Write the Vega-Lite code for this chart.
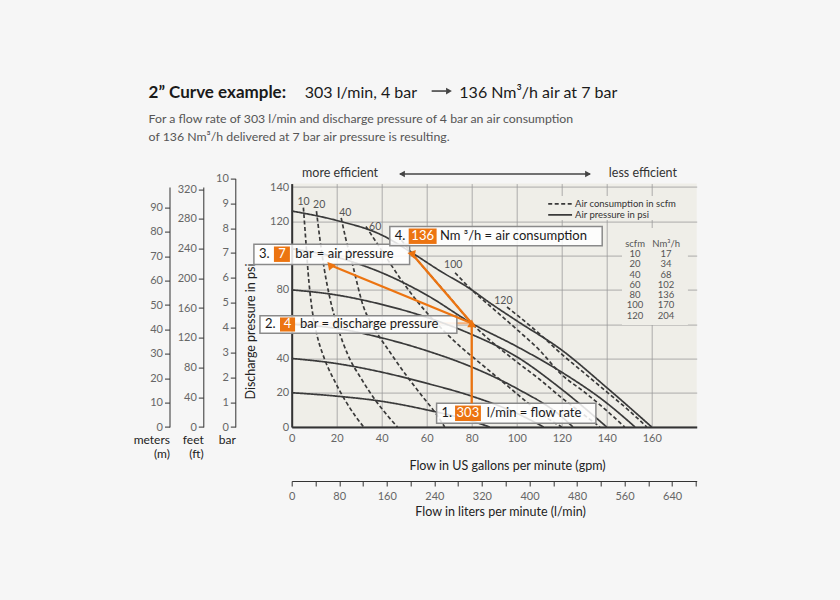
{
  "$schema": "https://vega.github.io/schema/vega-lite/v6.json",
  "width": 405,
  "height": 243.4,
  "autosize": {"type": "none"},
  "padding": {"left": 291.7, "top": 183.6, "right": 143.3, "bottom": 173},
  "background": "#f6f6f6",
  "config": {
    "font": "Lato",
    "view": {"fill": "#efeee8", "stroke": null},
    "axis": {"labelFont": "Lato", "titleFont": "Lato", "labelColor": "#666666", "titleColor": "#222222", "titleFontWeight": "normal", "labelFontSize": 11, "titleFontSize": 12.5, "domainColor": "#333333", "tickColor": "#333333", "labelOverlap": false, "labelFlush": false},
    "text": {"font": "Lato"}
  },
  "datasets": {
    "curves": [
      {"kind": "Air pressure in psi", "level": "p120", "gpm": 0, "psi": 126},
      {"kind": "Air pressure in psi", "level": "p120", "gpm": 20, "psi": 120.5},
      {"kind": "Air pressure in psi", "level": "p120", "gpm": 40, "psi": 112},
      {"kind": "Air pressure in psi", "level": "p120", "gpm": 53, "psi": 102},
      {"kind": "Air pressure in psi", "level": "p120", "gpm": 66, "psi": 91},
      {"kind": "Air pressure in psi", "level": "p120", "gpm": 80, "psi": 80},
      {"kind": "Air pressure in psi", "level": "p120", "gpm": 88, "psi": 72.5},
      {"kind": "Air pressure in psi", "level": "p120", "gpm": 100, "psi": 62},
      {"kind": "Air pressure in psi", "level": "p120", "gpm": 120, "psi": 44.9},
      {"kind": "Air pressure in psi", "level": "p120", "gpm": 140, "psi": 23},
      {"kind": "Air pressure in psi", "level": "p120", "gpm": 160, "psi": 0},
      {"kind": "Air pressure in psi", "level": "p100", "gpm": 0, "psi": 104},
      {"kind": "Air pressure in psi", "level": "p100", "gpm": 20, "psi": 99},
      {"kind": "Air pressure in psi", "level": "p100", "gpm": 40, "psi": 90},
      {"kind": "Air pressure in psi", "level": "p100", "gpm": 60, "psi": 77},
      {"kind": "Air pressure in psi", "level": "p100", "gpm": 80, "psi": 60.5},
      {"kind": "Air pressure in psi", "level": "p100", "gpm": 100, "psi": 47},
      {"kind": "Air pressure in psi", "level": "p100", "gpm": 120, "psi": 32},
      {"kind": "Air pressure in psi", "level": "p100", "gpm": 140, "psi": 14},
      {"kind": "Air pressure in psi", "level": "p100", "gpm": 152.6, "psi": 0},
      {"kind": "Air pressure in psi", "level": "p80", "gpm": 0, "psi": 80},
      {"kind": "Air pressure in psi", "level": "p80", "gpm": 20, "psi": 77},
      {"kind": "Air pressure in psi", "level": "p80", "gpm": 40, "psi": 71.5},
      {"kind": "Air pressure in psi", "level": "p80", "gpm": 60, "psi": 64},
      {"kind": "Air pressure in psi", "level": "p80", "gpm": 80, "psi": 54},
      {"kind": "Air pressure in psi", "level": "p80", "gpm": 100, "psi": 41},
      {"kind": "Air pressure in psi", "level": "p80", "gpm": 120, "psi": 22},
      {"kind": "Air pressure in psi", "level": "p80", "gpm": 140, "psi": 0},
      {"kind": "Air pressure in psi", "level": "p60", "gpm": 0, "psi": 60},
      {"kind": "Air pressure in psi", "level": "p60", "gpm": 20, "psi": 57.5},
      {"kind": "Air pressure in psi", "level": "p60", "gpm": 40, "psi": 52},
      {"kind": "Air pressure in psi", "level": "p60", "gpm": 60, "psi": 44.5},
      {"kind": "Air pressure in psi", "level": "p60", "gpm": 80, "psi": 35},
      {"kind": "Air pressure in psi", "level": "p60", "gpm": 100, "psi": 22.5},
      {"kind": "Air pressure in psi", "level": "p60", "gpm": 120, "psi": 6},
      {"kind": "Air pressure in psi", "level": "p60", "gpm": 125, "psi": 0},
      {"kind": "Air pressure in psi", "level": "p40", "gpm": 0, "psi": 40},
      {"kind": "Air pressure in psi", "level": "p40", "gpm": 20, "psi": 37},
      {"kind": "Air pressure in psi", "level": "p40", "gpm": 40, "psi": 32},
      {"kind": "Air pressure in psi", "level": "p40", "gpm": 60, "psi": 25.5},
      {"kind": "Air pressure in psi", "level": "p40", "gpm": 80, "psi": 18},
      {"kind": "Air pressure in psi", "level": "p40", "gpm": 100, "psi": 8},
      {"kind": "Air pressure in psi", "level": "p40", "gpm": 112, "psi": 0},
      {"kind": "Air pressure in psi", "level": "p20", "gpm": 0, "psi": 20},
      {"kind": "Air pressure in psi", "level": "p20", "gpm": 20, "psi": 18},
      {"kind": "Air pressure in psi", "level": "p20", "gpm": 40, "psi": 15},
      {"kind": "Air pressure in psi", "level": "p20", "gpm": 60, "psi": 10},
      {"kind": "Air pressure in psi", "level": "p20", "gpm": 80, "psi": 3.5},
      {"kind": "Air pressure in psi", "level": "p20", "gpm": 88, "psi": 0},
      {"kind": "Air consumption in scfm", "level": "c10", "gpm": 5.2, "psi": 128},
      {"kind": "Air consumption in scfm", "level": "c10", "gpm": 6.2, "psi": 110},
      {"kind": "Air consumption in scfm", "level": "c10", "gpm": 7.3, "psi": 90},
      {"kind": "Air consumption in scfm", "level": "c10", "gpm": 8.8, "psi": 71},
      {"kind": "Air consumption in scfm", "level": "c10", "gpm": 11, "psi": 55},
      {"kind": "Air consumption in scfm", "level": "c10", "gpm": 14.5, "psi": 40},
      {"kind": "Air consumption in scfm", "level": "c10", "gpm": 19, "psi": 27},
      {"kind": "Air consumption in scfm", "level": "c10", "gpm": 24, "psi": 15},
      {"kind": "Air consumption in scfm", "level": "c10", "gpm": 28.5, "psi": 6},
      {"kind": "Air consumption in scfm", "level": "c10", "gpm": 32, "psi": 0},
      {"kind": "Air consumption in scfm", "level": "c20", "gpm": 11, "psi": 126},
      {"kind": "Air consumption in scfm", "level": "c20", "gpm": 12.5, "psi": 110},
      {"kind": "Air consumption in scfm", "level": "c20", "gpm": 14.5, "psi": 92},
      {"kind": "Air consumption in scfm", "level": "c20", "gpm": 17, "psi": 75},
      {"kind": "Air consumption in scfm", "level": "c20", "gpm": 20.5, "psi": 58},
      {"kind": "Air consumption in scfm", "level": "c20", "gpm": 25, "psi": 42},
      {"kind": "Air consumption in scfm", "level": "c20", "gpm": 31, "psi": 28},
      {"kind": "Air consumption in scfm", "level": "c20", "gpm": 37, "psi": 16},
      {"kind": "Air consumption in scfm", "level": "c20", "gpm": 43, "psi": 6},
      {"kind": "Air consumption in scfm", "level": "c20", "gpm": 47, "psi": 0},
      {"kind": "Air consumption in scfm", "level": "c40", "gpm": 22, "psi": 122},
      {"kind": "Air consumption in scfm", "level": "c40", "gpm": 24, "psi": 110},
      {"kind": "Air consumption in scfm", "level": "c40", "gpm": 27, "psi": 95},
      {"kind": "Air consumption in scfm", "level": "c40", "gpm": 31.7, "psi": 71},
      {"kind": "Air consumption in scfm", "level": "c40", "gpm": 37, "psi": 57},
      {"kind": "Air consumption in scfm", "level": "c40", "gpm": 44, "psi": 43},
      {"kind": "Air consumption in scfm", "level": "c40", "gpm": 51, "psi": 30},
      {"kind": "Air consumption in scfm", "level": "c40", "gpm": 58, "psi": 18},
      {"kind": "Air consumption in scfm", "level": "c40", "gpm": 64, "psi": 8},
      {"kind": "Air consumption in scfm", "level": "c40", "gpm": 68, "psi": 0},
      {"kind": "Air consumption in scfm", "level": "c60", "gpm": 33, "psi": 117},
      {"kind": "Air consumption in scfm", "level": "c60", "gpm": 40, "psi": 103},
      {"kind": "Air consumption in scfm", "level": "c60", "gpm": 48.6, "psi": 86},
      {"kind": "Air consumption in scfm", "level": "c60", "gpm": 56, "psi": 73},
      {"kind": "Air consumption in scfm", "level": "c60", "gpm": 64, "psi": 61},
      {"kind": "Air consumption in scfm", "level": "c60", "gpm": 74, "psi": 48},
      {"kind": "Air consumption in scfm", "level": "c60", "gpm": 84, "psi": 37},
      {"kind": "Air consumption in scfm", "level": "c60", "gpm": 95, "psi": 25},
      {"kind": "Air consumption in scfm", "level": "c60", "gpm": 105, "psi": 14},
      {"kind": "Air consumption in scfm", "level": "c60", "gpm": 115, "psi": 4},
      {"kind": "Air consumption in scfm", "level": "c60", "gpm": 120, "psi": 0},
      {"kind": "Air consumption in scfm", "level": "c80", "gpm": 47, "psi": 112},
      {"kind": "Air consumption in scfm", "level": "c80", "gpm": 54, "psi": 100.3},
      {"kind": "Air consumption in scfm", "level": "c80", "gpm": 62, "psi": 88},
      {"kind": "Air consumption in scfm", "level": "c80", "gpm": 70, "psi": 76},
      {"kind": "Air consumption in scfm", "level": "c80", "gpm": 80, "psi": 60.5},
      {"kind": "Air consumption in scfm", "level": "c80", "gpm": 90, "psi": 48.5},
      {"kind": "Air consumption in scfm", "level": "c80", "gpm": 100, "psi": 38},
      {"kind": "Air consumption in scfm", "level": "c80", "gpm": 110, "psi": 28},
      {"kind": "Air consumption in scfm", "level": "c80", "gpm": 120, "psi": 17},
      {"kind": "Air consumption in scfm", "level": "c80", "gpm": 130, "psi": 7},
      {"kind": "Air consumption in scfm", "level": "c80", "gpm": 137, "psi": 0},
      {"kind": "Air consumption in scfm", "level": "c100", "gpm": 72.6, "psi": 90},
      {"kind": "Air consumption in scfm", "level": "c100", "gpm": 80, "psi": 80},
      {"kind": "Air consumption in scfm", "level": "c100", "gpm": 90, "psi": 68.5},
      {"kind": "Air consumption in scfm", "level": "c100", "gpm": 100, "psi": 57},
      {"kind": "Air consumption in scfm", "level": "c100", "gpm": 110, "psi": 45},
      {"kind": "Air consumption in scfm", "level": "c100", "gpm": 120, "psi": 30.5},
      {"kind": "Air consumption in scfm", "level": "c100", "gpm": 130, "psi": 20.5},
      {"kind": "Air consumption in scfm", "level": "c100", "gpm": 140, "psi": 9.5},
      {"kind": "Air consumption in scfm", "level": "c100", "gpm": 148, "psi": 0},
      {"kind": "Air consumption in scfm", "level": "c120", "gpm": 95.7, "psi": 70},
      {"kind": "Air consumption in scfm", "level": "c120", "gpm": 100, "psi": 65.5},
      {"kind": "Air consumption in scfm", "level": "c120", "gpm": 110, "psi": 54.5},
      {"kind": "Air consumption in scfm", "level": "c120", "gpm": 120, "psi": 42.5},
      {"kind": "Air consumption in scfm", "level": "c120", "gpm": 130, "psi": 31.5},
      {"kind": "Air consumption in scfm", "level": "c120", "gpm": 140, "psi": 20.5},
      {"kind": "Air consumption in scfm", "level": "c120", "gpm": 150, "psi": 9.5},
      {"kind": "Air consumption in scfm", "level": "c120", "gpm": 157.8, "psi": 0}
    ],
    "curveLabels": [
      {"label": "10", "gpm": 5.3, "psi": 131.4},
      {"label": "20", "gpm": 12.2, "psi": 129.5},
      {"label": "40", "gpm": 23.8, "psi": 124.7},
      {"label": "60", "gpm": 37.1, "psi": 116.9},
      {"label": "100", "gpm": 71.8, "psi": 94.5},
      {"label": "120", "gpm": 94.1, "psi": 73.5}
    ],
    "panels": [
      {"gpm": 146.8, "gpm2": 176.1, "psi": 116.1, "psi2": 59.5},
      {"gpm": 112.6, "gpm2": 177.0, "psi": 134.8, "psi2": 120.8}
    ],
    "legendItems": [
      {"kind": "Air consumption in scfm", "gpm": 114.0, "gpm2": 124.6, "psi": 130.2},
      {"kind": "Air pressure in psi", "gpm": 114.0, "gpm2": 124.6, "psi": 123.8}
    ],
    "discharge": [{"gpm": 0, "gpm2": 80, "psi": 60.5}],
    "boxes": [
      {"n": "1", "gpm": 64.4, "gpm2": 135.2, "psi": 13.8, "psi2": 2.2},
      {"n": "2", "gpm": -14.1, "gpm2": 73.4, "psi": 64.9, "psi2": 54.7},
      {"n": "3", "gpm": -16.8, "gpm2": 52.4, "psi": 106.6, "psi2": 94.8},
      {"n": "4", "gpm": 43.6, "gpm2": 138.0, "psi": 116.9, "psi2": 105.8}
    ],
    "numbers": [
      {"num": "303", "gpm": 72.6, "gpm2": 84.1, "psi": 12.5, "psi2": 3.5, "cgpm": 78.3, "cpsi": 8.0},
      {"num": "4", "gpm": -5.2, "gpm2": 1.5, "psi": 63.9, "psi2": 55.7, "cgpm": -1.9, "cpsi": 59.8},
      {"num": "7", "gpm": -7.9, "gpm2": -0.8, "psi": 105.3, "psi2": 96.3, "cgpm": -4.3, "cpsi": 100.8},
      {"num": "136", "gpm": 52.0, "gpm2": 64.4, "psi": 115.8, "psi2": 106.8, "cgpm": 58.2, "cpsi": 111.3}
    ],
    "boxText": [
      {"text": "1.", "gpm": 66.6, "psi": 8.0},
      {"text": "l/min = flow rate", "gpm": 86.7, "psi": 8.0},
      {"text": "2.", "gpm": -11.9, "psi": 59.8},
      {"text": "bar = discharge pressure", "gpm": 3.7, "psi": 59.8},
      {"text": "3.", "gpm": -14.5, "psi": 100.8},
      {"text": "bar  = air pressure", "gpm": 1.6, "psi": 100.8},
      {"text": "4.", "gpm": 45.8, "psi": 111.3},
      {"text": "Nm ³/h = air consumption", "gpm": 65.9, "psi": 111.3}
    ],
    "arrows": [
      {"name": "flow", "gpm": 80, "psi": 13.8, "gpm2": 80, "psi2": 60.5},
      {"name": "cons", "gpm": 80, "psi": 60.5, "gpm2": 53.9, "psi2": 100.3},
      {"name": "pres", "gpm": 80, "psi": 60.5, "gpm2": 17.0, "psi2": 94.5}
    ],
    "headBold": [{"text": "2” Curve example:", "gpm": -63.6, "psi": 192.2}],
    "headRegular": [
      {"text": "303 l/min, 4 bar", "gpm": 5.8, "psi": 192.2},
      {"text": "136 Nm³/h air at 7 bar", "gpm": 74.5, "psi": 192.2}
    ],
    "paragraph": [
      {"text": "For a flow rate of 303 l/min and discharge pressure of 4 bar an air consumption", "gpm": -63.6, "psi": 177.4},
      {"text": "of 136 Nm³/h delivered at 7 bar air pressure is resulting.", "gpm": -63.6, "psi": 166.7}
    ],
    "efficiency": [
      {"text": "more efficient", "gpm": 21.5, "psi": 145.9},
      {"text": "less efficient", "gpm": 156.1, "psi": 145.9}
    ],
    "greyArrows": [
      {"gpm": 48.1, "gpm2": 132.6, "psi": 147.6},
      {"gpm": 62.2, "gpm2": 68.6, "psi": 196.0}
    ],
    "greyHeads": [
      {"dir": "left", "gpm": 49.0, "psi": 147.6},
      {"dir": "right", "gpm": 131.7, "psi": 147.6},
      {"dir": "right", "gpm": 69.9, "psi": 196.0}
    ],
    "table": [
      {"scfm": "scfm", "nm": "Nm³/h"},
      {"scfm": "10", "nm": "17"},
      {"scfm": "20", "nm": "34"},
      {"scfm": "40", "nm": "68"},
      {"scfm": "60", "nm": "102"},
      {"scfm": "80", "nm": "136"},
      {"scfm": "100", "nm": "170"},
      {"scfm": "120", "nm": "204"}
    ]
  },
  "resolve": {"scale": {"x": "independent", "y": "independent"}},
  "layer": [
    {"data": {"name": "panels"}, "mark": {"type": "rect", "fill": "#efeee8"},
      "encoding": {
        "x": {"field": "gpm", "type": "quantitative", "scale": {"domain": [0, 180], "nice": false, "zero": false},
          "axis": {"orient": "bottom", "values": [0, 20, 40, 60, 80, 100, 120, 140, 160], "grid": true, "gridColor": "#9a9a9a", "gridWidth": 0.8, "tickSize": 0, "labelPadding": 5, "domainWidth": 2, "title": "Flow in US gallons per minute (gpm)", "titleX": 215.3, "titleY": 42, "titleBaseline": "alphabetic"}},
        "y": {"field": "psi", "type": "quantitative", "scale": {"domain": [0, 142], "nice": false, "zero": false},
          "axis": {"orient": "left", "values": [0, 20, 40, 60, 80, 100, 120, 140], "labelExpr": "datum.value == 100 || datum.value == 60 ? '' : datum.label", "grid": true, "gridColor": "#9a9a9a", "gridWidth": 0.8, "tickSize": 0, "labelPadding": 3, "domainWidth": 2, "title": "Discharge pressure in psi", "titleX": -37.7, "titleY": 147.4, "titleBaseline": "alphabetic"}},
        "x2": {"field": "gpm2"}, "y2": {"field": "psi2"}
      }},
    {"data": {"name": "discharge"}, "mark": {"type": "rule", "color": "#f5b27e", "strokeWidth": 2},
      "encoding": {
        "x": {"field": "gpm", "type": "quantitative", "scale": {"domain": [0, 180], "nice": false, "zero": false}, "axis": null},
        "y": {"field": "psi", "type": "quantitative", "scale": {"domain": [0, 142], "nice": false, "zero": false}, "axis": null},
        "x2": {"field": "gpm2"}
      }},
    {"data": {"name": "curves"}, "mark": {"type": "line", "interpolate": "monotone", "color": "#3a3a3a", "strokeWidth": 1.7},
      "encoding": {
        "x": {"field": "gpm", "type": "quantitative", "scale": {"domain": [0, 180], "nice": false, "zero": false}, "axis": null},
        "y": {"field": "psi", "type": "quantitative", "scale": {"domain": [0, 142], "nice": false, "zero": false}, "axis": null},
        "strokeDash": {"field": "kind", "type": "nominal", "scale": {"domain": ["Air consumption in scfm", "Air pressure in psi"], "range": [[4, 2.5], [1, 0]]}, "legend": null},
        "detail": {"field": "level", "type": "nominal"}
      }},
    {"data": {"name": "legendItems"}, "mark": {"type": "rule", "color": "#3a3a3a", "strokeWidth": 1.8},
      "encoding": {
        "x": {"field": "gpm", "type": "quantitative", "scale": {"domain": [0, 180], "nice": false, "zero": false}, "axis": null},
        "y": {"field": "psi", "type": "quantitative", "scale": {"domain": [0, 142], "nice": false, "zero": false}, "axis": null},
        "x2": {"field": "gpm2"},
        "strokeDash": {"field": "kind", "type": "nominal", "legend": null}
      }},
    {"data": {"name": "legendItems"}, "mark": {"type": "text", "fontSize": 9.5, "color": "#333333", "align": "left", "baseline": "middle", "dx": 3},
      "encoding": {
        "x": {"field": "gpm2", "type": "quantitative", "scale": {"domain": [0, 180], "nice": false, "zero": false}, "axis": null},
        "y": {"field": "psi", "type": "quantitative", "scale": {"domain": [0, 142], "nice": false, "zero": false}, "axis": null},
        "text": {"field": "kind"}
      }},
    {"data": {"name": "curveLabels"}, "mark": {"type": "text", "fontSize": 10.5, "color": "#555555", "align": "center", "baseline": "middle"},
      "encoding": {
        "x": {"field": "gpm", "type": "quantitative", "scale": {"domain": [0, 180], "nice": false, "zero": false}, "axis": null},
        "y": {"field": "psi", "type": "quantitative", "scale": {"domain": [0, 142], "nice": false, "zero": false}, "axis": null},
        "text": {"field": "label"}
      }},
    {"data": {"name": "boxes"}, "mark": {"type": "rect", "fill": "#ffffff", "fillOpacity": 0.85, "stroke": "#8a8a8a", "strokeWidth": 1.5},
      "encoding": {
        "x": {"field": "gpm", "type": "quantitative", "scale": {"domain": [0, 180], "nice": false, "zero": false}, "axis": null},
        "y": {"field": "psi", "type": "quantitative", "scale": {"domain": [0, 142], "nice": false, "zero": false}, "axis": null},
        "x2": {"field": "gpm2"}, "y2": {"field": "psi2"}
      }},
    {"data": {"name": "numbers"}, "mark": {"type": "rect", "fill": "#ec7411"},
      "encoding": {
        "x": {"field": "gpm", "type": "quantitative", "scale": {"domain": [0, 180], "nice": false, "zero": false}, "axis": null},
        "y": {"field": "psi", "type": "quantitative", "scale": {"domain": [0, 142], "nice": false, "zero": false}, "axis": null},
        "x2": {"field": "gpm2"}, "y2": {"field": "psi2"}
      }},
    {"data": {"name": "arrows"}, "mark": {"type": "rule", "color": "#ec7411", "strokeWidth": 2.3},
      "encoding": {
        "x": {"field": "gpm", "type": "quantitative", "scale": {"domain": [0, 180], "nice": false, "zero": false}, "axis": null},
        "y": {"field": "psi", "type": "quantitative", "scale": {"domain": [0, 142], "nice": false, "zero": false}, "axis": null},
        "x2": {"field": "gpm2"}, "y2": {"field": "psi2"}
      }},
    {"data": {"name": "arrows"}, "mark": {"type": "point", "shape": "triangle-up", "filled": true, "color": "#ec7411", "size": 80, "opacity": 1},
      "encoding": {
        "x": {"field": "gpm2", "type": "quantitative", "scale": {"domain": [0, 180], "nice": false, "zero": false}, "axis": null},
        "y": {"field": "psi2", "type": "quantitative", "scale": {"domain": [0, 142], "nice": false, "zero": false}, "axis": null},
        "angle": {"field": "name", "type": "nominal", "scale": {"domain": ["flow", "cons", "pres"], "range": [0, 319.3, 292.4]}, "legend": null}
      }},
    {"data": {"name": "boxText"}, "mark": {"type": "text", "fontSize": 13, "color": "#1a1a1a", "align": "left", "baseline": "middle"},
      "encoding": {
        "x": {"field": "gpm", "type": "quantitative", "scale": {"domain": [0, 180], "nice": false, "zero": false}, "axis": null},
        "y": {"field": "psi", "type": "quantitative", "scale": {"domain": [0, 142], "nice": false, "zero": false}, "axis": null},
        "text": {"field": "text"}
      }},
    {"data": {"name": "numbers"}, "mark": {"type": "text", "fontSize": 13, "color": "#ffffff", "align": "center", "baseline": "middle"},
      "encoding": {
        "x": {"field": "cgpm", "type": "quantitative", "scale": {"domain": [0, 180], "nice": false, "zero": false}, "axis": null},
        "y": {"field": "cpsi", "type": "quantitative", "scale": {"domain": [0, 142], "nice": false, "zero": false}, "axis": null},
        "text": {"field": "num"}
      }},
    {"data": {"name": "headBold"}, "mark": {"type": "text", "fontSize": 17, "fontWeight": "bold", "color": "#1a1a1a", "align": "left", "baseline": "alphabetic"},
      "encoding": {
        "x": {"field": "gpm", "type": "quantitative", "scale": {"domain": [0, 180], "nice": false, "zero": false}, "axis": null},
        "y": {"field": "psi", "type": "quantitative", "scale": {"domain": [0, 142], "nice": false, "zero": false}, "axis": null},
        "text": {"field": "text"}
      }},
    {"data": {"name": "headRegular"}, "mark": {"type": "text", "fontSize": 16, "color": "#1a1a1a", "align": "left", "baseline": "alphabetic"},
      "encoding": {
        "x": {"field": "gpm", "type": "quantitative", "scale": {"domain": [0, 180], "nice": false, "zero": false}, "axis": null},
        "y": {"field": "psi", "type": "quantitative", "scale": {"domain": [0, 142], "nice": false, "zero": false}, "axis": null},
        "text": {"field": "text"}
      }},
    {"data": {"name": "paragraph"}, "mark": {"type": "text", "fontSize": 12.3, "color": "#555555", "align": "left", "baseline": "alphabetic"},
      "encoding": {
        "x": {"field": "gpm", "type": "quantitative", "scale": {"domain": [0, 180], "nice": false, "zero": false}, "axis": null},
        "y": {"field": "psi", "type": "quantitative", "scale": {"domain": [0, 142], "nice": false, "zero": false}, "axis": null},
        "text": {"field": "text"}
      }},
    {"data": {"name": "efficiency"}, "mark": {"type": "text", "fontSize": 12.5, "color": "#333333", "align": "center", "baseline": "alphabetic"},
      "encoding": {
        "x": {"field": "gpm", "type": "quantitative", "scale": {"domain": [0, 180], "nice": false, "zero": false}, "axis": null},
        "y": {"field": "psi", "type": "quantitative", "scale": {"domain": [0, 142], "nice": false, "zero": false}, "axis": null},
        "text": {"field": "text"}
      }},
    {"data": {"name": "greyArrows"}, "mark": {"type": "rule", "color": "#444444", "strokeWidth": 1.6},
      "encoding": {
        "x": {"field": "gpm", "type": "quantitative", "scale": {"domain": [0, 180], "nice": false, "zero": false}, "axis": null},
        "y": {"field": "psi", "type": "quantitative", "scale": {"domain": [0, 142], "nice": false, "zero": false}, "axis": null},
        "x2": {"field": "gpm2"}
      }},
    {"data": {"name": "greyHeads"}, "mark": {"type": "point", "filled": true, "color": "#444444", "size": 45, "opacity": 1},
      "encoding": {
        "x": {"field": "gpm", "type": "quantitative", "scale": {"domain": [0, 180], "nice": false, "zero": false}, "axis": null},
        "y": {"field": "psi", "type": "quantitative", "scale": {"domain": [0, 142], "nice": false, "zero": false}, "axis": null},
        "shape": {"field": "dir", "type": "nominal", "scale": {"domain": ["left", "right"], "range": ["triangle-left", "triangle-right"]}, "legend": null}
      }},
    {"data": {"name": "table"}, "mark": {"type": "text", "fontSize": 9.5, "color": "#555555", "align": "center", "baseline": "middle"},
      "encoding": {
        "x": {"datum": 152.6, "type": "quantitative", "scale": {"domain": [0, 180], "nice": false, "zero": false}, "axis": null},
        "y": {"field": "scfm", "type": "ordinal", "sort": null, "scale": {"type": "point", "range": [60.4, 132.1], "padding": 0}, "axis": null},
        "text": {"field": "scfm"}
      }},
    {"data": {"name": "table"}, "mark": {"type": "text", "fontSize": 9.5, "color": "#555555", "align": "center", "baseline": "middle"},
      "encoding": {
        "x": {"datum": 166.4, "type": "quantitative", "scale": {"domain": [0, 180], "nice": false, "zero": false}, "axis": null},
        "y": {"field": "scfm", "type": "ordinal", "sort": null, "scale": {"type": "point", "range": [60.4, 132.1], "padding": 0}, "axis": null},
        "text": {"field": "nm"}
      }},
    {
      "data": {"values": [{"lpm": 0}]},
      "mark": {"type": "point", "opacity": 0},
      "encoding": {
        "x": {"field": "lpm", "type": "quantitative", "scale": {"domain": [0, 681.4], "nice": false, "zero": false},
          "axis": {"orient": "bottom", "offset": 54, "values": [0, 40, 80, 120, 160, 200, 240, 280, 320, 360, 400, 440, 480, 520, 560, 600, 640, 680], "labelExpr": "datum.value % 80 === 0 ? datum.label : ''", "tickSize": 5, "labelPadding": 4, "grid": false, "domainWidth": 1, "title": "Flow in liters per minute (l/min)", "titleX": 208.3, "titleY": 34.3, "titleBaseline": "alphabetic"}}
      }
    },
    {
      "data": {"values": [{"v": 0}]},
      "mark": {"type": "point", "opacity": 0},
      "encoding": {
        "y": {"field": "v", "type": "quantitative", "scale": {"domain": [0, 10], "range": [243.4, -5.2], "nice": false, "zero": false},
          "axis": {"orient": "left", "offset": 56.4, "values": [0, 1, 2, 3, 4, 5, 6, 7, 8, 9, 10], "tickSize": 5, "labelPadding": 2, "grid": false, "title": "bar", "titleAngle": 0, "titleAlign": "right", "titleX": 0, "titleY": 259.4, "titleBaseline": "alphabetic", "titleFontSize": 12}}
      }
    },
    {
      "data": {"values": [{"v": 0}]},
      "mark": {"type": "point", "opacity": 0},
      "encoding": {
        "y": {"field": "v", "type": "quantitative", "scale": {"domain": [0, 322.9], "range": [243.4, 3.4], "nice": false, "zero": false},
          "axis": {"orient": "left", "offset": 88.4, "values": [0, 40, 80, 120, 160, 200, 240, 280, 320], "tickSize": 5, "labelPadding": 2, "grid": false, "title": ["feet", "(ft)"], "titleAngle": 0, "titleAlign": "right", "titleX": 0, "titleY": 259.4, "titleBaseline": "alphabetic", "titleFontSize": 12, "titleLineHeight": 14}}
      }
    },
    {
      "data": {"values": [{"v": 0}]},
      "mark": {"type": "point", "opacity": 0},
      "encoding": {
        "y": {"field": "v", "type": "quantitative", "scale": {"domain": [0, 98.43], "range": [243.4, 3.4], "nice": false, "zero": false},
          "axis": {"orient": "left", "offset": 122.2, "values": [0, 10, 20, 30, 40, 50, 60, 70, 80, 90], "tickSize": 5, "labelPadding": 2, "grid": false, "title": ["meters", "(m)"], "titleAngle": 0, "titleAlign": "right", "titleX": 0, "titleY": 259.4, "titleBaseline": "alphabetic", "titleFontSize": 12, "titleLineHeight": 14}}
      }
    }
  ]
}
